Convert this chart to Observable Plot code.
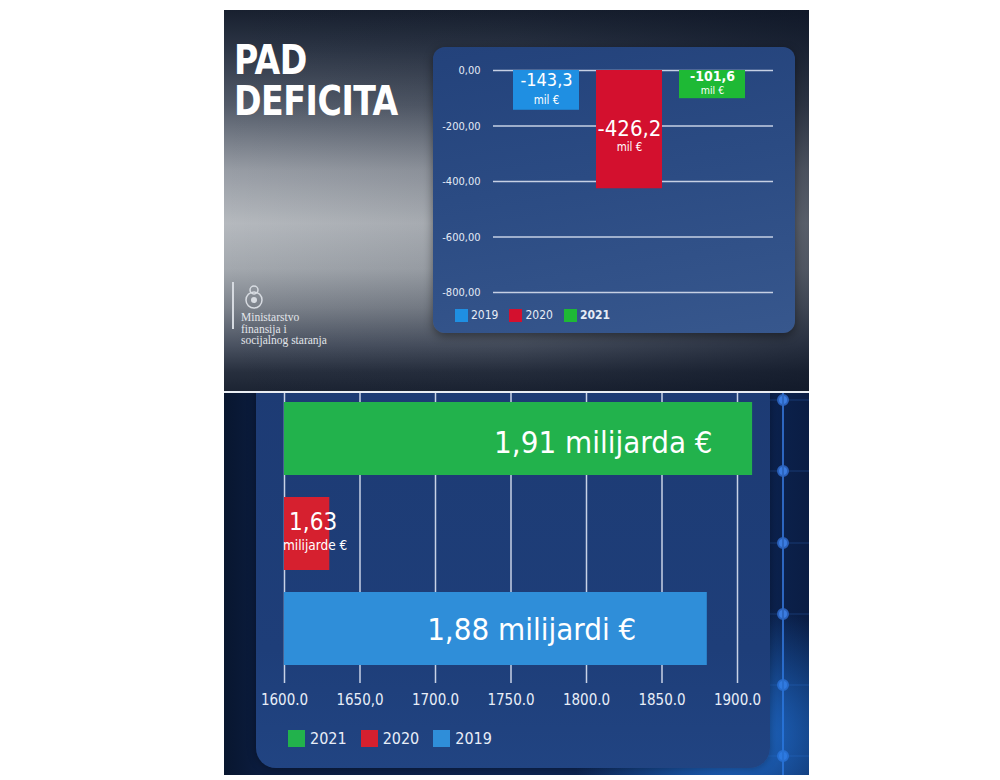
<!DOCTYPE html>
<html><head><meta charset="utf-8">
<script src="https://cdn.jsdelivr.net/npm/d3@7"></script>
<script src="https://cdn.jsdelivr.net/npm/@observablehq/plot@0.6"></script>
<style>
  body{margin:0;background:#fff;width:1000px;height:780px;position:relative;overflow:hidden;
    font-family:"Liberation Sans Narrow","DejaVu Sans Condensed",Roboto,sans-serif;}
  #top{position:absolute;left:224px;top:10px;width:585px;height:381px;overflow:hidden;
    background:linear-gradient(180deg,#18202f 0%,#2c3545 10%,#535b69 25%,#979ca4 42%,#b5b9be 56%,#a3a8ae 68%,#7d838c 78%,#4a5261 88%,#272f3e 95%,#1c2433 100%);}
  #top::after{content:"";position:absolute;inset:0;background:linear-gradient(90deg,rgba(10,18,35,0) 0%,rgba(10,18,35,0.12) 50%,rgba(10,18,35,0.55) 100%);pointer-events:none;}
  .ttl{position:absolute;left:10px;color:#fff;font-weight:bold;font-size:41px;line-height:41px;height:41px;letter-spacing:-0.5px;z-index:2;transform:scaleX(0.9);transform-origin:left top;white-space:nowrap;}
  #logo{position:absolute;left:8px;top:272px;z-index:2;}
  #logoline{position:absolute;left:0;top:0;width:1.5px;height:47px;background:#d6dae0;}
  #logotext{position:absolute;left:9px;top:30px;width:120px;font-family:"Liberation Serif","DejaVu Serif",serif;font-size:11.5px;line-height:11.5px;color:#e2e5ea;}
  #box1{position:absolute;left:209px;top:37px;width:362px;height:286px;border-radius:12px;z-index:2;
    background:linear-gradient(170deg,#23427b 0%,#2b4b83 45%,#37578d 100%);box-shadow:0 3px 10px rgba(0,0,0,0.45);}
  #plot1{position:absolute;left:0;top:0;}
  #legend1{position:absolute;left:22px;top:261px;display:flex;gap:0;font-size:12px;color:#e6ecf6;}
  #legend1 .it{display:flex;align-items:center;margin-right:11px;}
  #legend1 .sw{width:13px;height:13px;margin-right:3px;}
  #bottom{position:absolute;left:224px;top:393px;width:585px;height:382px;overflow:hidden;
    background:linear-gradient(90deg,#08162f 0%,#0b1c3e 6%,#0d2450 50%,#0c2350 92%,#0a1d44 100%);}
  #glow{position:absolute;right:-90px;bottom:-90px;width:330px;height:260px;border-radius:50%;
    background:radial-gradient(closest-side,rgba(35,120,225,0.9),rgba(35,120,225,0.35) 60%,rgba(35,120,225,0));}
  #deco{position:absolute;left:0;top:0;}
  #box2{position:absolute;left:32px;top:-20px;width:514px;height:395px;border-radius:20px;
    background:linear-gradient(180deg,#1d3b74 0%,#1e3e79 70%,#214482 100%);box-shadow:0 0 8px rgba(0,0,0,0.35);}
  #plot2{position:absolute;left:0;top:20px;}
  #legend2{position:absolute;left:32px;top:356px;display:flex;font-size:16px;color:#e8eef8;}
  #legend2 .it{display:flex;align-items:center;margin-right:14px;}
  #legend2 .sw{width:17px;height:17px;margin-right:5px;}
  #sep{position:absolute;left:224px;top:391px;width:585px;height:2px;background:#e9edf3;}
</style></head>
<body>
<div id="top">
  <div class="ttl" style="top:30px">PAD</div>
  <div class="ttl" style="top:71px">DEFICITA</div>
  <div id="logo">
    <div id="logoline"></div>
    <svg style="position:absolute;left:10px;top:2px" width="24" height="26" viewBox="0 0 24 26">
      <circle cx="12" cy="6" r="4" fill="none" stroke="#d8dce2" stroke-width="1.5"/>
      <ellipse cx="12" cy="16" rx="8" ry="8" fill="none" stroke="#d8dce2" stroke-width="1.5"/>
      <circle cx="12" cy="16" r="3" fill="#d8dce2"/>
    </svg>
    <div id="logotext">Ministarstvo<br>finansija i<br>socijalnog staranja</div>
  </div>
  <div id="box1">
    <div id="plot1"></div>
    <div id="legend1"></div>
  </div>
</div>
<div id="sep"></div>
<div id="bottom">
  <svg id="deco" width="585" height="382"></svg>
  <div id="glow"></div>
  <div id="box2">
    <div id="plot2"></div>
    <div id="legend2"></div>
  </div>
</div>
<script>
// ---------- DATA ----------
const deficitYears = ["2019", "2020", "2021"];
const deficitValues = [-143.3, -426.2, -101.6];
const deficitUnit = "mil €";
const deficitTicks = [0, -200, -400, -600, -800];
const deficitColors = ["#1f8fe2", "#d3102e", "#1eb935"];

const revenueYears = ["2021", "2020", "2019"];
const revenueValues = [1910, 1630, 1880];
const revenueUnits = ["milijarda €", "milijarde €", "milijardi €"];
const revenueColors = ["#22b24c", "#d6202f", "#2f8ed9"];
const revenueTicks = [1600, 1650, 1700, 1750, 1800, 1850, 1900];
const revenueTickLabels = ["1600.0", "1650,0", "1700.0", "1750.0", "1800.0", "1850.0", "1900.0"];

// ---------- TOP CHART ----------
const FONT = '"Liberation Sans Narrow","DejaVu Sans Condensed",Roboto,sans-serif';
const deficitRows = deficitYears.map((y, i) => ({year: y, value: deficitValues[i],
  num: deficitValues[i].toFixed(1).replace(".", ",")}));
const topStyle = {
  "2019": {fs: 18, fw: "normal", dy: -10, ufs: 11.5, udy: 10},
  "2020": {fs: 22, fw: "normal", dy: -1, ufs: 11.5, udy: 18},
  "2021": {fs: 14, fw: "bold", dy: -8, ufs: 10.5, udy: 6}
};
const topLabelMarks = deficitYears.flatMap(yr => {
  const s = topStyle[yr];
  const d = deficitRows.filter(r => r.year === yr);
  return [
    Plot.text(d, {x: "year", y: r => r.value / 2, text: "num", fill: "white", fontSize: s.fs, fontWeight: s.fw, dy: s.dy}),
    Plot.text(d, {x: "year", y: r => r.value / 2, text: () => deficitUnit, fill: "white", fontSize: s.ufs, dy: s.udy})
  ];
});
const p1 = Plot.plot({
  width: 362, height: 255,
  marginTop: 23, marginBottom: 10, marginLeft: 60, marginRight: 22,
  style: {background: "transparent", fontFamily: FONT, color: "#e4eaf5", overflow: "visible"},
  x: {domain: deficitYears, paddingInner: 0.2, paddingOuter: 0.277, align: 0.43, axis: null},
  y: {domain: [-800, 0], ticks: deficitTicks, tickSize: 0, tickPadding: 13,
      tickFormat: d => d.toFixed(2).replace(".", ","), label: null},
  color: {domain: deficitYears, range: deficitColors},
  marks: [
    Plot.ruleY(deficitTicks, {stroke: "#c6d0e4", strokeWidth: 1.5}),
    Plot.barY(deficitRows, {x: "year", y: "value", fill: "year"}),
    ...topLabelMarks
  ]
});
p1.querySelectorAll("g[aria-label='y-axis tick label']").forEach(e => e.setAttribute("font-size", "11"));
document.getElementById("plot1").appendChild(p1);

const lg1 = document.getElementById("legend1");
deficitYears.forEach((y, i) => {
  const it = document.createElement("div"); it.className = "it";
  it.innerHTML = `<div class="sw" style="background:${deficitColors[i]}"></div><span style="font-weight:${y === "2021" ? "bold" : "normal"}">${y}</span>`;
  lg1.appendChild(it);
});

// ---------- BOTTOM CHART ----------
const revenueRows = revenueYears.map((y, i) => ({year: y, value: revenueValues[i],
  num: (revenueValues[i] / 1000).toFixed(2).replace(".", ","), unit: revenueUnits[i]}));
const botStyle = {
  "2021": {dx: -40, dy: 4},
  "2019": {dx: -71, dy: 1}
};
const botLabelMarks = ["2021", "2019"].map(yr => {
  const s = botStyle[yr];
  return Plot.text(revenueRows.filter(r => r.year === yr), {x: "value", y: "year", text: r => `${r.num} ${r.unit}`,
    textAnchor: "end", fill: "white", fontSize: 31, dx: s.dx, dy: s.dy});
});
const small = revenueRows.filter(r => r.year === "2020");
botLabelMarks.push(
  Plot.text(small, {x: r => (1600 + r.value) / 2, y: "year", text: "num", fill: "white", fontSize: 24, dx: 6, dy: -12}),
  Plot.text(small, {x: r => (1600 + r.value) / 2, y: "year", text: "unit", fill: "white", fontSize: 13.5, dx: 8, dy: 12})
);
const p2 = Plot.plot({
  width: 514, height: 320,
  marginTop: 0, marginBottom: 30, marginLeft: 28, marginRight: 33,
  style: {background: "transparent", fontFamily: FONT, color: "#e8eef8", overflow: "visible"},
  x: {domain: [1600, 1900], ticks: revenueTicks, tickSize: 0, tickPadding: 11,
      tickFormat: d => revenueTickLabels[revenueTicks.indexOf(d)], label: null},
  y: {domain: revenueYears, paddingInner: 0.234, paddingOuter: 0.1275, align: 0.33, axis: null},
  color: {domain: revenueYears, range: revenueColors},
  marks: [
    Plot.ruleX(revenueTicks, {stroke: "#c8d2e6", strokeWidth: 1.5}),
    Plot.barX(revenueRows, {x1: 1600, x2: "value", y: "year", fill: "year"}),
    ...botLabelMarks
  ]
});
p2.querySelectorAll("g[aria-label='x-axis tick label']").forEach(e => e.setAttribute("font-size", "15"));
document.getElementById("plot2").appendChild(p2);

const lg2 = document.getElementById("legend2");
revenueYears.forEach((y, i) => {
  const it = document.createElement("div"); it.className = "it";
  it.innerHTML = `<div class="sw" style="background:${revenueColors[i]}"></div><span>${y}</span>`;
  lg2.appendChild(it);
});

// decorative background grid (right side)
const deco = d3.select("#deco");
[7, 78, 150, 221, 292, 363].forEach(y => {
  deco.append("line").attr("x1", 530).attr("x2", 585).attr("y1", y).attr("y2", y).attr("stroke", "#2a5aa8").attr("stroke-opacity", 0.45);
  deco.append("circle").attr("cx", 559).attr("cy", y).attr("r", 5).attr("fill", "#3b7ce0").attr("stroke", "#2a5fb8").attr("stroke-width", 2);
});
deco.append("line").attr("x1", 559).attr("x2", 559).attr("y1", 0).attr("y2", 382).attr("stroke", "#2d66c0").attr("stroke-width", 2);
</script>
</body></html>
